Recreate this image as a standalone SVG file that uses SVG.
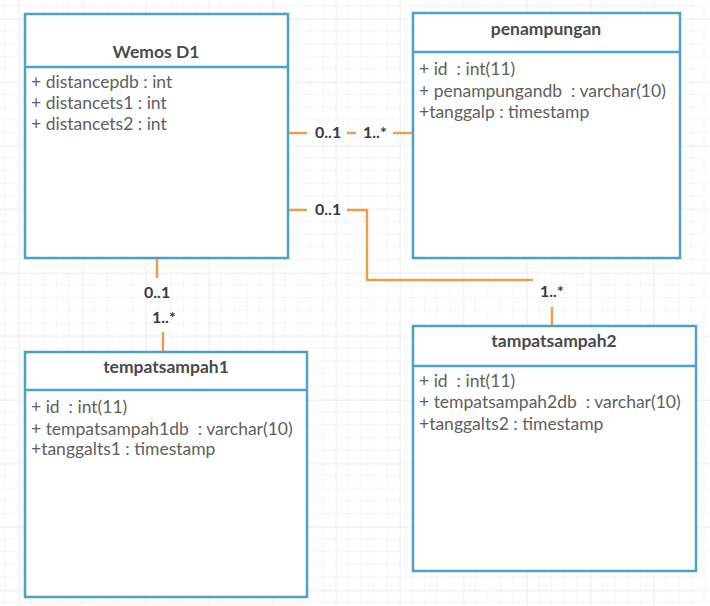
<svg xmlns="http://www.w3.org/2000/svg" width="710" height="606" viewBox="0 0 710 606">
<defs>
<pattern id="minor" width="12.7" height="12.7" patternUnits="userSpaceOnUse" x="6" y="6">
<path d="M12.7 0V12.7M0 12.7H12.7" fill="none" stroke="#f0f0f0" stroke-width="1"/>
</pattern>
<pattern id="major" width="63.5" height="63.5" patternUnits="userSpaceOnUse" x="19" y="19">
<path d="M0 0V63.5M0 0H63.5" fill="none" stroke="#e6e6e6" stroke-width="1"/>
</pattern>
</defs>
<style>
.box{fill:#ffffff;stroke:#4ba2c6;stroke-width:2.5}
.div{stroke:#4ba2c6;stroke-width:2.5}
.title{font-family:Lato,"Liberation Sans",sans-serif;font-weight:bold;font-size:17.5px;fill:#4a4a4a;text-anchor:middle}
.attr{font-family:Lato,"Liberation Sans",sans-serif;font-size:17.5px;fill:#606060;white-space:pre}
.conn{fill:none;stroke:#e8a04e;stroke-width:2.5}
.mult{font-family:Lato,"Liberation Sans",sans-serif;font-weight:bold;font-size:16px;fill:#3a3a3a}
</style>
<rect width="710" height="606" fill="#ffffff"/>
<rect width="710" height="606" fill="url(#minor)"/>
<rect width="710" height="606" fill="url(#major)"/>

<g id="connectors">
<path class="conn" d="M288 133H307M347 133H356M393 133H413"/>
<path class="conn" d="M288 210H307M347 210H367V280H533"/>
<path class="conn" d="M552 307V326"/>
<path class="conn" d="M157 258V278M163 332V352"/>
<text class="mult" x="315" y="138">0..1</text>
<text class="mult" x="363" y="138">1..*</text>
<text class="mult" x="315" y="215">0..1</text>
<text class="mult" x="540" y="297">1..*</text>
<text class="mult" x="144" y="298">0..1</text>
<text class="mult" x="152" y="323">1..*</text>
</g>

<g id="wemos">
<rect class="box" x="25" y="14" width="263" height="244"/>
<line class="div" x1="25" y1="67" x2="288" y2="67"/>
<text class="title" x="156" y="58">Wemos D1</text>
<text class="attr" x="31" y="88">+ distancepdb : int</text>
<text class="attr" x="31" y="109">+ distancets1 : int</text>
<text class="attr" x="31" y="130">+ distancets2 : int</text>
</g>

<g id="penampungan">
<rect class="box" x="413" y="13" width="267" height="245"/>
<line class="div" x1="413" y1="52" x2="680" y2="52"/>
<text class="title" x="546" y="35">penampungan</text>
<text class="attr" x="419" y="75">+ id  : int(11)</text>
<text class="attr" x="419" y="97">+ penampungandb  : varchar(10)</text>
<text class="attr" x="419" y="118">+tanggalp : timestamp</text>
</g>

<g id="tempatsampah1">
<rect class="box" x="25" y="352" width="282" height="245"/>
<line class="div" x1="25" y1="390" x2="307" y2="390"/>
<text class="title" x="166" y="373">tempatsampah1</text>
<text class="attr" x="31" y="413">+ id  : int(11)</text>
<text class="attr" x="31" y="435">+ tempatsampah1db  : varchar(10)</text>
<text class="attr" x="31" y="455">+tanggalts1 : timestamp</text>
</g>

<g id="tampatsampah2">
<rect class="box" x="413" y="326" width="283" height="245"/>
<line class="div" x1="413" y1="366" x2="696" y2="366"/>
<text class="title" x="554" y="347">tampatsampah2</text>
<text class="attr" x="419" y="387">+ id  : int(11)</text>
<text class="attr" x="419" y="408">+ tempatsampah2db  : varchar(10)</text>
<text class="attr" x="419" y="430">+tanggalts2 : timestamp</text>
</g>
</svg>
